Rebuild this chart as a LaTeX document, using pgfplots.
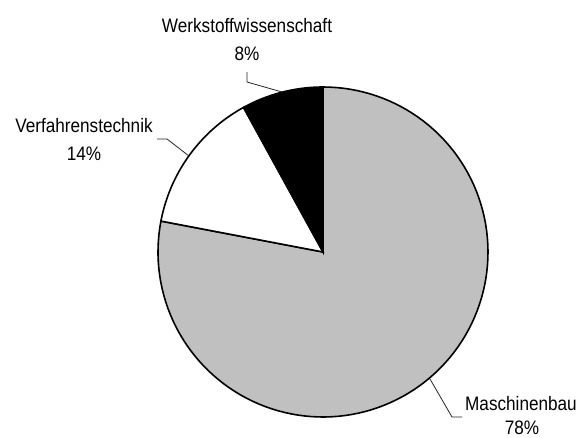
\documentclass[border=0pt]{standalone}
\usepackage{fontspec}
\setmainfont{Liberation Sans}[FakeStretch=0.88]
\usepackage{pgfplots}
\pgfplotsset{compat=1.18}
\definecolor{piegray}{RGB}{192,192,192}
% shares in percent
\def\vMasch{78}
\def\vVerf{14}
\def\vWerk{8}
\pgfmathsetmacro{\aA}{90-3.6*\vMasch}
\pgfmathsetmacro{\aB}{\aA-3.6*\vVerf}
\pgfmathsetmacro{\aC}{\aB-3.6*\vWerk}
\begin{document}
\begin{tikzpicture}
\begin{axis}[
    width=579pt, height=437pt, scale only axis,
    xmin=0, xmax=579, ymin=0, ymax=437,
    y dir=reverse,
    hide axis, clip=false,
]
% slices (centre 323,252, radius 165)
\addplot[fill=piegray, draw=black, line width=1.6pt, domain=\aA:90, samples=120]
    ({323+165*cos(x)},{252-165*sin(x)}) -- (axis cs:323,252) -- cycle;
\addplot[fill=white, draw=black, line width=1.6pt, domain=\aB-360:\aA-360, samples=40]
    ({323+165*cos(x)},{252-165*sin(x)}) -- (axis cs:323,252) -- cycle;
\addplot[fill=black, draw=black, line width=1.6pt, domain=\aC-360:\aB-360, samples=30]
    ({323+165*cos(x)},{252-165*sin(x)}) -- (axis cs:323,252) -- cycle;
% leader lines
\addplot[black!85, line width=0.8pt] coordinates {(247,72) (247,82) (282,92)};
\addplot[black!85, line width=0.8pt] coordinates {(157,139) (167,139) (189,156)};
\addplot[black!85, line width=0.8pt] coordinates {(430,379) (452,417) (462,417)};
% labels
\begin{scope}[every node/.style={font=\fontsize{19.5}{19.5}\selectfont, anchor=base, inner sep=0pt}]
\node at (axis cs:247,32) {Werkstoffwissenschaft};
\node at (axis cs:247,60) {\vWerk\%};
\node at (axis cs:84,132) {Verfahrenstechnik};
\node at (axis cs:84,160) {\vVerf\%};
\node at (axis cs:521,410) {Maschinenbau};
\node at (axis cs:522,434) {\vMasch\%};
\end{scope}
\end{axis}
\pgfresetboundingbox
\path (current axis.south west) rectangle (current axis.north east);
\end{tikzpicture}
\end{document}
